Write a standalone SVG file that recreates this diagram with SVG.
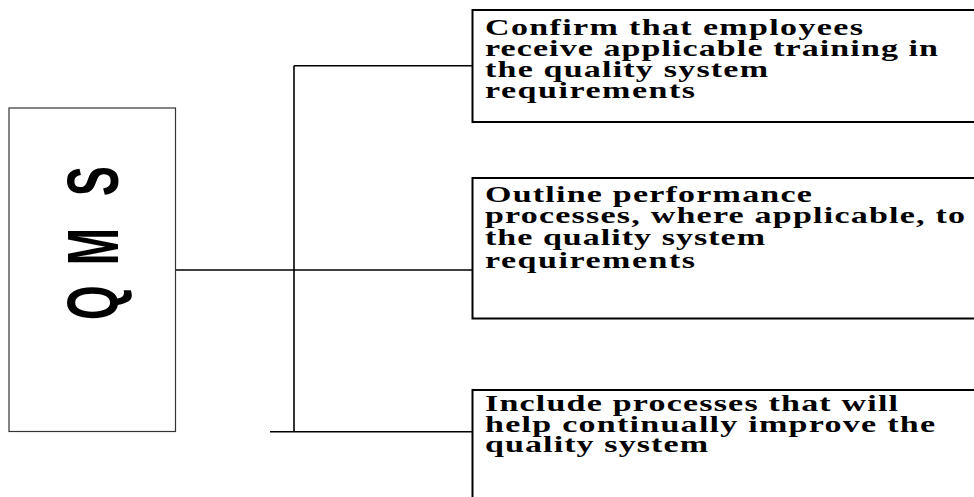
<svg xmlns="http://www.w3.org/2000/svg" width="974" height="497" viewBox="0 0 974 497">
<style>
.box{fill:#fff;stroke:#000;stroke-width:2}
.qbox{fill:#fff;stroke:#333;stroke-width:1.2}
.conn line{stroke:#000;stroke-width:1.6}
.t{font-family:"Liberation Serif","Times New Roman",serif;font-weight:bold;font-size:23px;fill:#000}
.q{font-family:"Liberation Sans",Arial,sans-serif;font-weight:bold;font-size:72px;fill:#000}
</style>
<rect width="974" height="497" fill="#fff"/>
<g class="conn" id="connectors">
<line x1="175.5" y1="270" x2="472.5" y2="270"/>
<line x1="294" y1="65.7" x2="294" y2="431.7"/>
<line x1="294" y1="65.7" x2="472.5" y2="65.7"/>
<line x1="270" y1="431.7" x2="472.5" y2="431.7"/>
</g>
<g id="qms">
<rect class="qbox" x="9" y="108" width="166.5" height="323.5"/>
<text class="q" transform="translate(118,0) rotate(-90) scale(0.62,1)"><tspan x="-516" y="0">Q</tspan><tspan x="-428" y="0">M</tspan><tspan x="-316" y="0">S</tspan></text>
</g>
<g id="box1">
<rect class="box" x="472.5" y="10" width="520" height="112"/>
<g transform="translate(485,0) scale(1.48,1)">
<text class="t" x="0" y="35" textLength="255.4" lengthAdjust="spacing">Confirm that employees</text>
<text class="t" x="0" y="56" textLength="306.1" lengthAdjust="spacing">receive applicable training in</text>
<text class="t" x="0" y="77" textLength="191.2" lengthAdjust="spacing">the quality system</text>
<text class="t" x="0" y="98" textLength="141.9" lengthAdjust="spacing">requirements</text>
</g>
</g>
<g id="box2">
<rect class="box" x="472.5" y="178" width="520" height="140.5"/>
<g transform="translate(485,0) scale(1.48,1)">
<text class="t" x="0" y="202" textLength="220.9" lengthAdjust="spacing">Outline performance</text>
<text class="t" x="0" y="223" textLength="324.3" lengthAdjust="spacing">processes, where applicable, to</text>
<text class="t" x="0" y="245" textLength="189.2" lengthAdjust="spacing">the quality system</text>
<text class="t" x="0" y="268" textLength="141.9" lengthAdjust="spacing">requirements</text>
</g>
</g>
<g id="box3">
<rect class="box" x="472.5" y="390" width="520" height="130"/>
<g transform="translate(485,0) scale(1.48,1)">
<text class="t" x="0" y="411" textLength="279.1" lengthAdjust="spacing">Include processes that will</text>
<text class="t" x="0" y="432" textLength="304.1" lengthAdjust="spacing">help continually improve the</text>
<text class="t" x="0" y="452" textLength="150.7" lengthAdjust="spacing">quality system</text>
</g>
</g>
</svg>
